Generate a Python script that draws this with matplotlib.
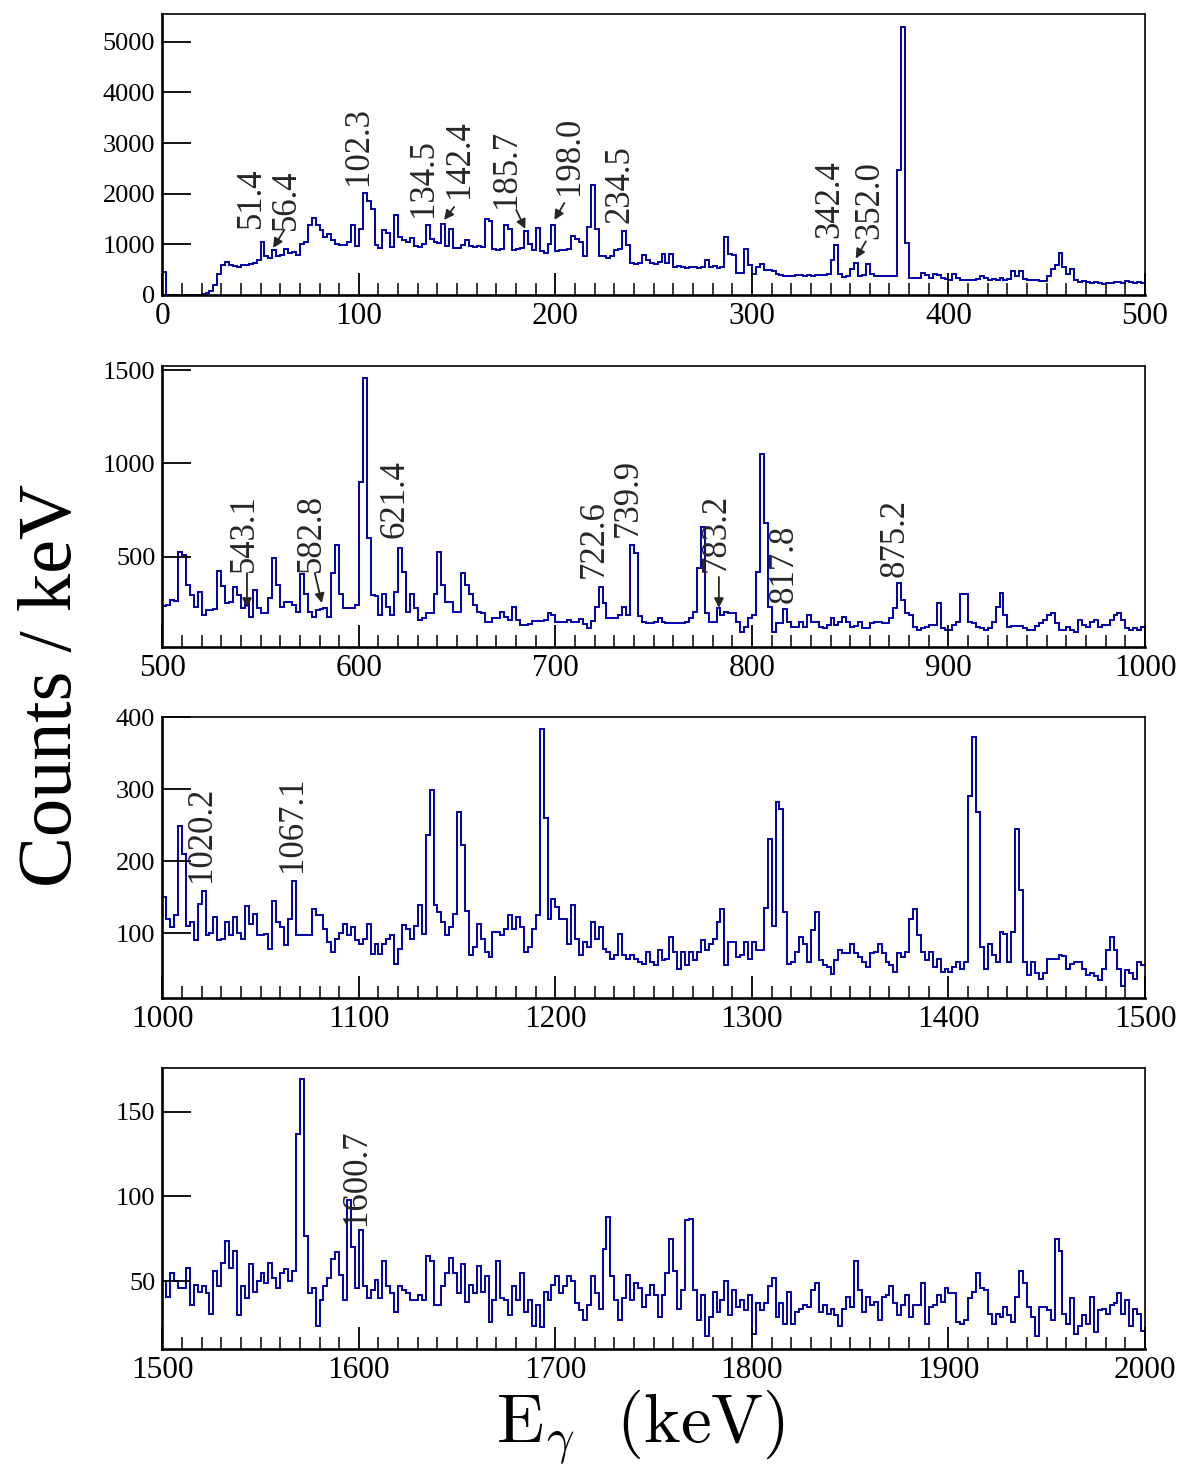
import numpy as np
import matplotlib.pyplot as plt

plt.rcParams['font.family'] = ['Liberation Serif', 'DejaVu Serif']
plt.rcParams['mathtext.fontset'] = 'cm'

BIN = 2  # keV per channel
LINE = '#0000a8'
INK = '#262626'

# counts per 2 keV channel, one row = 20 keV
counts_0_500 = [
    450, 0, 0, 0, 0, 0, 0, 0, 0, 0,
    10, 30, 80, 200, 420, 600, 650, 600, 580, 560,
    590, 600, 620, 640, 700, 1050, 760, 730, 880, 760,
    780, 900, 820, 850, 780, 1000, 1050, 1380, 1520, 1380,
    1280, 1150, 1200, 1080, 1000, 980, 990, 1050, 1380, 960,
    1300, 2020, 1850, 1700, 980, 920, 1280, 1220, 950, 1580,
    1150, 1080, 1040, 1120, 960, 950, 1000, 1380, 1100, 1050,
    1020, 1400, 960, 1300, 930, 920, 980, 1090, 960, 940,
    960, 950, 1510, 1460, 900, 880, 900, 1380, 1300, 890,
    900, 920, 1260, 1000, 880, 1320, 860, 820, 1000, 1380,
    860, 880, 890, 900, 1160, 1100, 1050, 760, 1350, 2170,
    1300, 770, 760, 740, 770, 880, 900, 1260, 990, 640,
    620, 640, 780, 700, 640, 620, 660, 800, 640, 800,
    560, 570, 560, 540, 560, 550, 530, 560, 700, 560,
    570, 540, 560, 1140, 800, 780, 430, 440, 900, 600,
    420, 560, 620, 500, 490, 470, 420, 400, 370, 380,
    370, 390, 400, 380, 390, 380, 400, 390, 400, 420,
    700, 990, 420, 360, 370, 520, 640, 380, 390, 620,
    420, 370, 375, 370, 380, 375, 380, 2470, 5300, 1035,
    340, 330, 340, 440, 400, 330, 420, 400, 330, 310,
    300, 420, 340, 300, 290, 300, 290, 310, 380, 340,
    300, 310, 290, 330, 300, 320, 470, 380, 470, 320,
    300, 290, 300, 280, 270, 380, 520, 600, 830, 560,
    420, 520, 300, 260, 270, 250, 240, 260, 230, 220,
    230, 240, 260, 250, 240, 270, 250, 240, 250, 230,
]

counts_500_1000 = [
    235, 240, 265, 260, 527, 509, 348, 294, 232, 312,
    187, 214, 214, 218, 423, 340, 250, 259, 339, 294,
    223, 255, 178, 321, 223, 196, 196, 276, 495, 348,
    232, 258, 258, 240, 205, 407, 300, 205, 178, 214,
    220, 225, 178, 410, 563, 300, 223, 226, 223, 240,
    900, 1460, 600, 294, 290, 187, 298, 230, 187, 312,
    545, 420, 205, 298, 223, 160, 170, 196, 196, 299,
    523, 348, 255, 255, 205, 205, 410, 348, 300, 240,
    205, 196, 151, 151, 169, 169, 205, 178, 160, 232,
    160, 133, 133, 140, 155, 155, 155, 160, 196, 187,
    151, 151, 151, 160, 151, 151, 165, 140, 119, 155,
    232, 335, 250, 169, 169, 169, 187, 232, 187, 563,
    518, 180, 151, 142, 142, 150, 169, 151, 142, 142,
    142, 142, 142, 150, 169, 205, 437, 661, 200, 151,
    151, 223, 187, 205, 200, 196, 151, 97, 124, 169,
    187, 420, 1051, 679, 230, 97, 142, 142, 219, 151,
    124, 124, 151, 124, 187, 151, 151, 124, 115, 133,
    169, 133, 151, 178, 151, 124, 130, 151, 115, 115,
    142, 151, 151, 142, 142, 169, 223, 357, 267, 196,
    187, 124, 106, 115, 124, 133, 133, 249, 115, 106,
    106, 133, 151, 299, 298, 151, 142, 124, 115, 106,
    115, 151, 230, 303, 187, 124, 130, 130, 130, 115,
    106, 106, 130, 142, 160, 187, 196, 142, 106, 106,
    124, 106, 97, 160, 133, 124, 151, 160, 124, 133,
    133, 160, 187, 196, 160, 115, 106, 115, 106, 124,
]

counts_1000_1500 = [
    150, 120, 108, 125, 249, 210, 110, 115, 90, 140,
    159, 97, 100, 122, 90, 92, 115, 97, 122, 100,
    92, 138, 113, 127, 97, 97, 99, 78, 144, 115,
    108, 84, 120, 173, 97, 97, 97, 97, 134, 125,
    125, 105, 87, 74, 92, 100, 113, 97, 108, 90,
    85, 92, 113, 71, 85, 71, 85, 92, 97, 57,
    78, 111, 105, 92, 110, 139, 99, 237, 299, 139,
    129, 115, 97, 108, 127, 268, 222, 131, 69, 80,
    113, 92, 74, 67, 101, 101, 97, 106, 125, 106,
    122, 108, 74, 80, 106, 125, 384, 260, 120, 148,
    136, 120, 120, 85, 139, 92, 69, 87, 80, 116,
    92, 108, 78, 74, 64, 69, 98, 69, 64, 69,
    64, 60, 57, 74, 60, 55, 76, 62, 64, 94,
    74, 50, 74, 55, 74, 62, 74, 90, 76, 85,
    92, 116, 133, 55, 87, 87, 67, 69, 87, 64,
    87, 76, 76, 135, 231, 110, 282, 273, 129, 57,
    60, 73, 94, 85, 60, 104, 129, 62, 55, 53,
    43, 62, 76, 72, 72, 85, 72, 67, 60, 53,
    72, 74, 85, 72, 60, 55, 46, 72, 67, 74,
    120, 134, 97, 74, 62, 74, 53, 64, 46, 50,
    46, 53, 60, 50, 60, 290, 373, 269, 80, 50,
    85, 70, 60, 102, 98, 60, 101, 245, 160, 60,
    41, 60, 45, 36, 45, 64, 64, 64, 69, 68,
    50, 57, 60, 60, 50, 41, 45, 40, 34, 50,
    76, 95, 76, 50, 27, 48, 45, 36, 60, 55,
]

counts_1500_2000 = [
    50, 41, 55, 50, 46, 46, 58, 36, 48, 44,
    47, 43, 31, 56, 47, 61, 74, 58, 68, 30,
    47, 40, 60, 44, 50, 55, 49, 61, 52, 46,
    55, 57, 50, 56, 137, 169, 77, 43, 46, 24,
    39, 47, 52, 63, 67, 54, 39, 98, 70, 46,
    80, 47, 40, 45, 51, 40, 62, 47, 43, 32,
    47, 45, 43, 39, 39, 42, 39, 65, 62, 36,
    36, 47, 55, 64, 55, 43, 60, 38, 48, 43,
    59, 44, 53, 26, 39, 62, 40, 39, 30, 47,
    39, 55, 32, 39, 24, 36, 23, 44, 39, 48,
    53, 43, 47, 53, 50, 37, 33, 27, 36, 53,
    43, 34, 69, 88, 53, 39, 27, 40, 54, 39,
    49, 46, 35, 42, 48, 42, 29, 42, 55, 75,
    56, 34, 45, 86, 87, 45, 27, 42, 18, 29,
    44, 32, 39, 50, 30, 45, 35, 39, 33, 42,
    19, 37, 33, 37, 47, 52, 29, 37, 25, 44,
    25, 32, 34, 36, 35, 45, 49, 32, 36, 31,
    34, 30, 24, 34, 41, 35, 62, 45, 32, 41,
    36, 38, 27, 41, 42, 47, 37, 30, 36, 42,
    29, 36, 36, 49, 25, 35, 36, 42, 38, 46,
    43, 43, 26, 25, 27, 40, 44, 55, 46, 45,
    31, 25, 31, 29, 35, 30, 26, 41, 56, 49,
    35, 29, 18, 35, 35, 33, 27, 75, 68, 31,
    25, 40, 19, 24, 30, 25, 41, 20, 33, 34,
    31, 36, 37, 43, 31, 39, 24, 34, 31, 21,
]

# transition energies marked in each range
lines_0_500 = ['51.4', '56.4', '102.3', '134.5', '142.4', '185.7', '198.0',
               '234.5', '342.4', '352.0']
lines_500_1000 = ['543.1', '582.8', '621.4', '722.6', '739.9', '783.2',
                  '817.8', '875.2']
lines_1000_1500 = ['1020.2', '1067.1']
lines_1500_2000 = ['1600.7']

# where each label sits (keV, counts) and its arrow (tail, head) if any
text_at_0_500 = [(45.6, 1324), (63.1, 1285), (100.0, 2174), (132.7, 1541),
                 (151.0, 1917), (175.0, 1719), (207.1, 1976), (232.7, 1423),
                 (339.6, 1120), (360.1, 1100)]
arrows_0_500 = [None, ((62.1, 1285), (56.4, 929)), None, None,
                ((148.5, 1739), (143.4, 1482)),
                ((180.1, 1680), (184.7, 1304)),
                ((204.6, 1818), (199.5, 1482)), None, None,
                ((358.0, 1060), (352.8, 720))]

text_at_500_1000 = [(541.6, 418), (576.1, 418), (618.4, 600), (720.0, 386),
                    (736.9, 606), (782.1, 418), (816.6, 252), (873.1, 391)]
arrows_500_1000 = [((543.1, 412), (543.1, 225)), ((577.6, 412), (581.2, 251)),
                   None, None, None, ((783.2, 391), (783.2, 225)), None, None]

text_at_1000_1500 = [(1020.1, 171), (1066.1, 185)]
arrows_1000_1500 = [None, None]

text_at_1500_2000 = [(1599.0, 83)]
arrows_1500_2000 = [None]

AX_LEFT, AX_WIDTH = 0.1373, 0.8314

panels = [
    dict(lo=0, counts=counts_0_500, ylim=(0, 5550),
         yticks=[0, 1000, 2000, 3000, 4000, 5000],
         labels=lines_0_500, text_at=text_at_0_500, arrows=arrows_0_500,
         bottom=0.7992, height=0.1913),
    dict(lo=500, counts=counts_500_1000, ylim=(17, 1525),
         yticks=[500, 1000, 1500],
         labels=lines_500_1000, text_at=text_at_500_1000, arrows=arrows_500_1000,
         bottom=0.5598, height=0.1913),
    dict(lo=1000, counts=counts_1000_1500, ylim=(10, 400),
         yticks=[100, 200, 300, 400],
         labels=lines_1000_1500, text_at=text_at_1000_1500, arrows=arrows_1000_1500,
         bottom=0.3208, height=0.1909),
    dict(lo=1500, counts=counts_1500_2000, ylim=(10, 175.5),
         yticks=[50, 100, 150],
         labels=lines_1500_2000, text_at=text_at_1500_2000, arrows=arrows_1500_2000,
         bottom=0.0815, height=0.1913),
]

fig = plt.figure(figsize=(11.82, 14.69), dpi=100)

for p in panels:
    ax = fig.add_axes([AX_LEFT, p['bottom'], AX_WIDTH, p['height']])
    lo = p['lo']
    edges = lo + BIN * np.arange(len(p['counts']) + 1)
    ax.stairs(p['counts'], edges, color=LINE, lw=1.4, baseline=None)

    ax.set_xlim(lo, lo + 500)
    ax.set_ylim(*p['ylim'])
    ax.set_xticks(np.arange(lo, lo + 501, 100))
    ax.set_xticks(np.arange(lo, lo + 501, 10), minor=True)
    ax.set_yticks(p['yticks'])
    ax.tick_params(axis='x', which='major', direction='in', length=15.8,
                   width=1.3, pad=5, labelsize=22.5, top=False)
    ax.tick_params(axis='x', which='minor', direction='in', length=8.6,
                   width=1.1, top=False)
    ax.tick_params(axis='y', which='major', direction='in', length=20.9,
                   width=1.3, pad=5, labelsize=19, right=False)
    ax.tick_params(axis='y', which='minor', left=False, right=False)
    for s in ax.spines.values():
        s.set_linewidth(1.2)
    ax.spines['left'].set_linewidth(1.9)
    ax.spines['bottom'].set_linewidth(1.9)

    for lab, (tx, ty), arr in zip(p['labels'], p['text_at'], p['arrows']):
        ax.text(tx, ty, lab, rotation=90, ha='center', va='bottom',
                fontsize=25, color=INK)
        if arr is not None:
            ax.annotate('', xy=arr[1], xytext=arr[0],
                        arrowprops=dict(arrowstyle='-|>', color=INK, lw=1.3,
                                        mutation_scale=14, shrinkA=0, shrinkB=0))

fig.text(0.0445, 0.5337, 'Counts / keV', rotation=90, ha='center',
         va='center', fontsize=55)
fig.text(0.5423, 0.0175, r'$\mathrm{E}_{\gamma}\ \ \mathrm{(keV)}$',
         ha='center', va='baseline', fontsize=50)

fig.savefig('out.png', dpi=100)
